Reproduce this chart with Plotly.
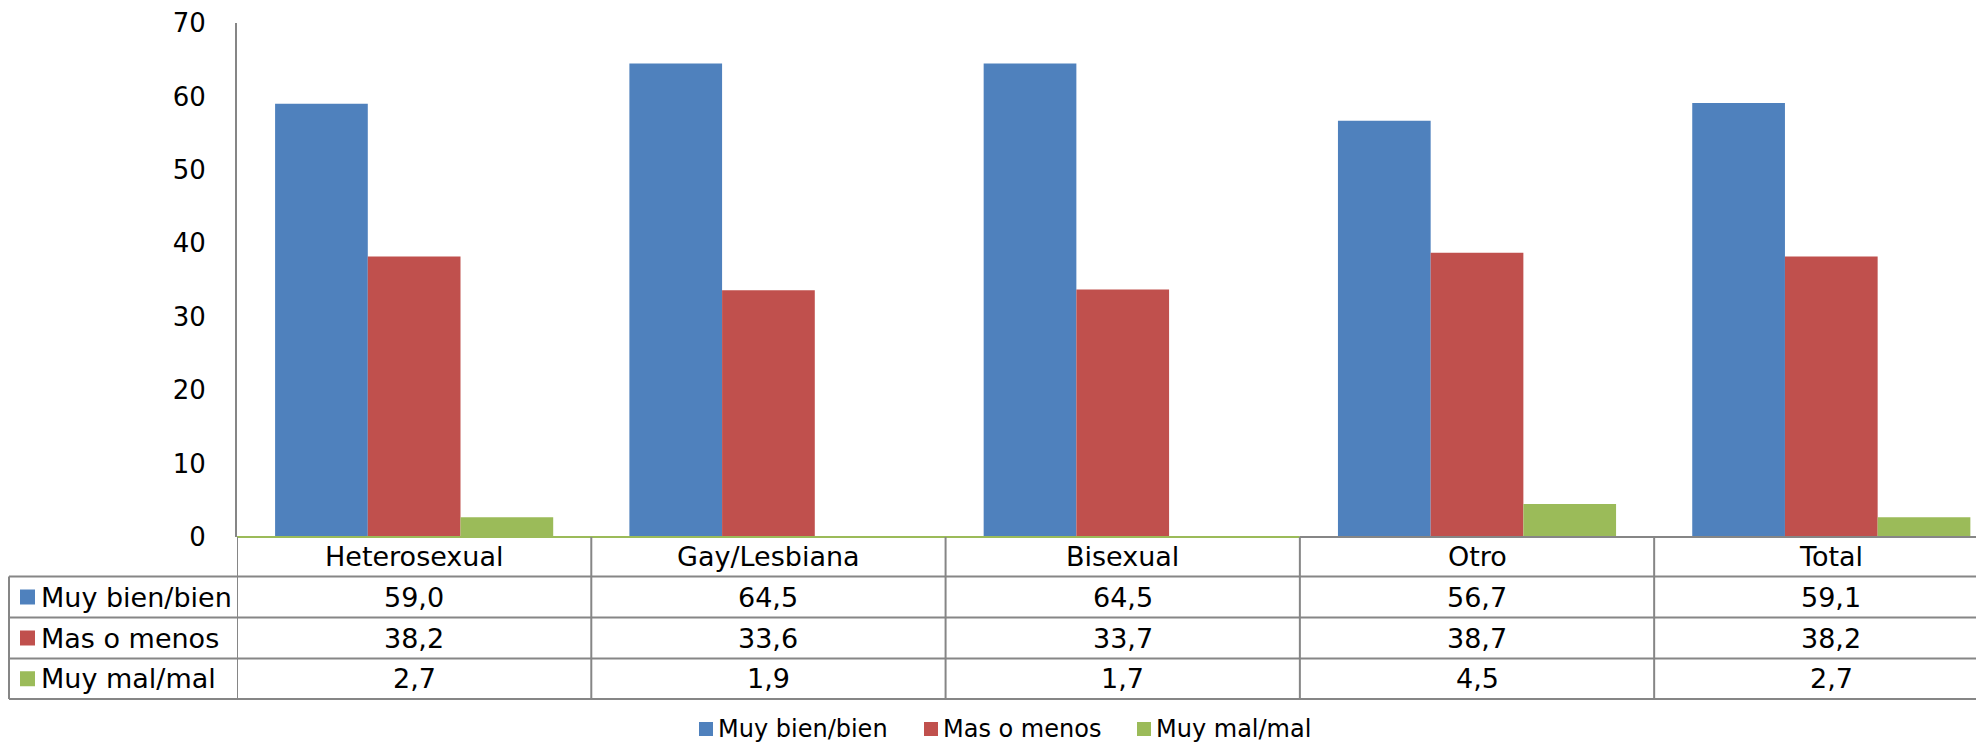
import plotly.graph_objects as go

categories = ["Heterosexual", "Gay/Lesbiana", "Bisexual", "Otro", "Total"]
series_names = ["Muy bien/bien", "Mas o menos", "Muy mal/mal"]
muy_bien = [59.0, 64.5, 64.5, 56.7, 59.1]
mas_menos = [38.2, 33.6, 33.7, 38.7, 38.2]
muy_mal = [2.7, 1.9, 1.7, 4.5, 2.7]
# green bars as they appear drawn in the picture (none visible for Gay/Lesbiana and Bisexual)
muy_mal_bars = [2.7, None, None, 4.5, 2.7]
y_ticks = [0, 10, 20, 30, 40, 50, 60, 70]

colors = ["#4F81BD", "#C0504D", "#9BBB59"]
FONT = "DejaVu Sans"
OFF = 8  # page body margin
W, H = 1984 - OFF, 747 - OFF
ML, MR, MT, MB = 237 - OFF, 0, 23 - OFF, 210
PW = W - ML - MR
PH = H - MT - MB
GRAY = "#868686"


def px_x(px):
    # px in screenshot coordinates
    return (px - OFF - ML) / PW


def px_y(py):
    return (H - MB - (py - OFF)) / PH


fig = go.Figure()
for name, vals, col in zip(series_names, [muy_bien, mas_menos, muy_mal_bars], colors):
    fig.add_trace(go.Bar(x=categories, y=vals, name=name, marker=dict(color=col, line=dict(width=0)),
                         showlegend=False, hoverinfo="x+y+name"))

shapes = []
annotations = []

row_edges = [537, 576.5, 617.5, 658.5, 699]
tbl_left = 9

shapes.append(dict(type="line", xref="x", yref="paper", x0=-0.5, x1=2.5, y0=px_y(537), y1=px_y(537),
                   line=dict(color="#9BBB59", width=2), layer="above"))
shapes.append(dict(type="line", xref="x", yref="paper", x0=2.5, x1=5, y0=px_y(537), y1=px_y(537),
                   line=dict(color=GRAY, width=2), layer="above"))
for py in row_edges[1:]:
    shapes.append(dict(type="line", xref="paper", yref="paper", x0=px_x(tbl_left), x1=1.0,
                       y0=px_y(py), y1=px_y(py), line=dict(color=GRAY, width=2), layer="above"))
for i in range(len(categories)):
    shapes.append(dict(type="line", xref="x", yref="paper", x0=i - 0.5, x1=i - 0.5,
                       y0=px_y(537), y1=px_y(699), line=dict(color=GRAY, width=2), layer="above"))
shapes.append(dict(type="line", xref="paper", yref="paper", x0=px_x(tbl_left), x1=px_x(tbl_left),
                   y0=px_y(row_edges[1]), y1=px_y(699), line=dict(color=GRAY, width=2), layer="above"))

hdr_y = px_y((row_edges[0] + row_edges[1]) / 2)
for i, c in enumerate(categories):
    annotations.append(dict(x=i, y=hdr_y, xref="x", yref="paper", text=c, showarrow=False,
                            font=dict(family=FONT, size=27, color="black"), xanchor="center", yanchor="middle"))

for r, (name, vals, col) in enumerate(zip(series_names, [muy_bien, mas_menos, muy_mal], colors)):
    top, bot = row_edges[r + 1], row_edges[r + 2]
    cy = (top + bot) / 2
    shapes.append(dict(type="rect", xref="paper", yref="paper", x0=px_x(20), x1=px_x(35),
                       y0=px_y(cy - 7.5), y1=px_y(cy + 7.5), fillcolor=col, line=dict(width=0)))
    annotations.append(dict(x=px_x(39), y=px_y(cy), xref="paper", yref="paper", text=name, showarrow=False,
                            font=dict(family=FONT, size=27, color="black"), xanchor="left", yanchor="middle"))
    for i, v in enumerate(vals):
        annotations.append(dict(x=i, y=px_y(cy), xref="x", yref="paper",
                                text=f"{v:.1f}".replace(".", ","), showarrow=False,
                                font=dict(family=FONT, size=27, color="black"), xanchor="center", yanchor="middle"))

leg_sq = [699, 924, 1137]
leg_cy = 729
for name, col, sx in zip(series_names, colors, leg_sq):
    shapes.append(dict(type="rect", xref="paper", yref="paper", x0=px_x(sx), x1=px_x(sx + 14),
                       y0=px_y(leg_cy - 7), y1=px_y(leg_cy + 7), fillcolor=col, line=dict(width=0)))
    annotations.append(dict(x=px_x(sx + 18), y=px_y(leg_cy), xref="paper", yref="paper", text=name,
                            showarrow=False, font=dict(family=FONT, size=24, color="black"),
                            xanchor="left", yanchor="middle", borderpad=0))

fig.update_layout(
    width=W, height=H,
    margin=dict(l=ML, r=MR, t=MT, b=MB, pad=0),
    paper_bgcolor="white", plot_bgcolor="white",
    barmode="group", bargap=0.215, bargroupgap=0,
    font=dict(family=FONT, size=26, color="black"),
    xaxis=dict(range=[-0.5, 4.431], showticklabels=False, showgrid=False, zeroline=False,
               showline=False, ticks=""),
    yaxis=dict(range=[0, 70], tickvals=y_ticks, showgrid=False, zeroline=False, showline=True,
               linecolor=GRAY, linewidth=2, ticks="", ticklabelstandoff=24,
               ticklabeloverflow="allow",
               tickfont=dict(family=FONT, size=26, color="black")),
    shapes=shapes, annotations=annotations, showlegend=False,
)

fig.write_html("out.html")
